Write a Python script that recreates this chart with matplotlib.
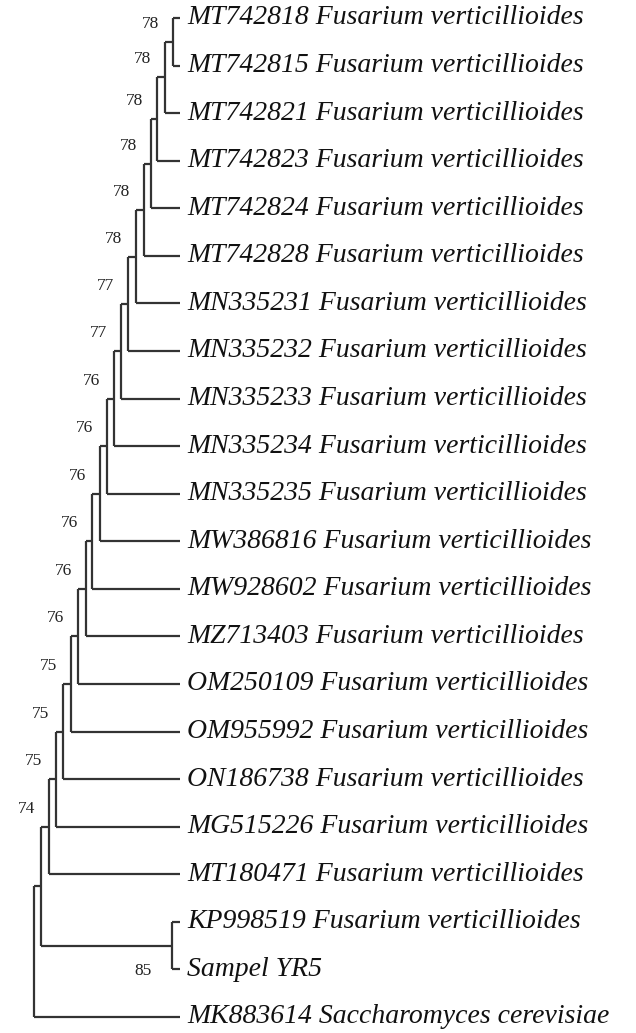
import matplotlib.pyplot as plt

# leaves from top to bottom
ladder_leaves = ['MT742818', 'MT742815', 'MT742821', 'MT742823', 'MT742824', 'MT742828',
                 'MN335231', 'MN335232', 'MN335233', 'MN335234', 'MN335235', 'MW386816',
                 'MW928602', 'MZ713403', 'OM250109', 'OM955992', 'ON186738', 'MG515226',
                 'MT180471']
species = 'Fusarium verticillioides'
pair_leaves = ['KP998519 Fusarium verticillioides', 'Sampel YR5']
outgroup = 'MK883614 Saccharomyces cerevisiae'

# node depths along the ladder (one per internal node, top to bottom), tips, pair node, root
ladder_x = [173, 165, 157, 151, 144, 136, 128, 121, 114, 107, 100, 92, 86, 78, 71, 63, 56, 49]
ladder_boot = [78, 78, 78, 78, 78, 78, 77, 77, 76, 76, 76, 76, 76, 76, 75, 75, 75, 74]
tip_x = 180
pair_x = 172
pair_boot = 85
join_x = 41
root_x = 34

lc = '#333333'
lw = 1.6
fig = plt.figure(figsize=(6.36, 10.33), dpi=100)
ax = fig.add_axes([0, 0, 1, 1])
ax.set_xlim(0, 636)
step = 47.57
ax.set_ylim((1033 - 18) / step, -18 / step)
ax.axis('off')

font_lab = dict(family='Liberation Serif', style='italic', fontsize=20, color='#111111', va='center')
font_boot = dict(family='Liberation Serif', fontsize=12.5, color='#222222', ha='right', va='center')

def hline(x0, x1, y):
    ax.plot([x0, x1], [y, y], color=lc, lw=lw, solid_capstyle='butt')

def vline(x, y0, y1):
    ax.plot([x, x], [y0, y1], color=lc, lw=lw, solid_capstyle='butt')

# leaf labels
all_labels = [f'{c} {species}' for c in ladder_leaves] + pair_leaves + [outgroup]
for i, lab in enumerate(all_labels):
    ax.text(tip_x + 7, i, lab, **font_lab)

# ladder
top_y = 0
prev_x = None
for k, nx in enumerate(ladder_x):
    leaf_y = k + 1
    if k == 0:
        hline(nx, tip_x, 0)
    else:
        hline(nx, prev_x, top_y)
    hline(nx, tip_x, leaf_y)
    vline(nx, top_y, leaf_y)
    mid = (top_y + leaf_y) / 2
    ax.text(nx - 14, mid - 18 / step, str(ladder_boot[k]), **font_boot)
    top_y = mid
    prev_x = nx

# pair clade
n = len(ladder_leaves)
p0, p1 = n, n + 1
vline(pair_x, p0, p1)
hline(pair_x, tip_x, p0)
hline(pair_x, tip_x, p1)
pair_mid = (p0 + p1) / 2
ax.text(pair_x - 20, pair_mid + 25 / step, str(pair_boot), **font_boot)

# join ladder + pair
hline(join_x, prev_x, top_y)
hline(join_x, pair_x, pair_mid)
vline(join_x, top_y, pair_mid)
join_mid = (top_y + pair_mid) / 2

# root with outgroup
og = n + 2
hline(root_x, join_x, join_mid)
hline(root_x, tip_x, og)
vline(root_x, join_mid, og)

fig.savefig('out.png', dpi=100, facecolor='white')
